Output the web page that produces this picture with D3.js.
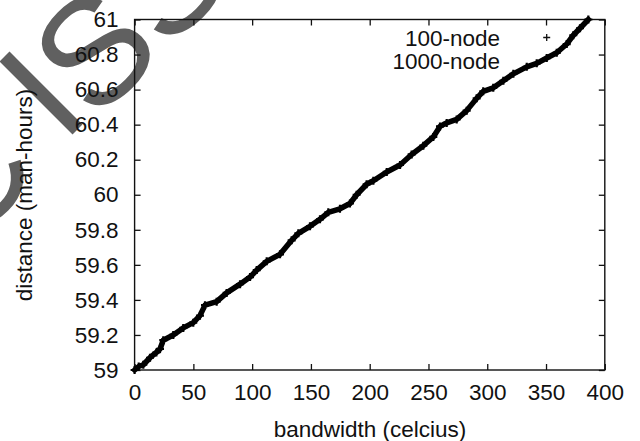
<!DOCTYPE html>
<html><head><meta charset="utf-8">
<script src="https://cdn.jsdelivr.net/npm/d3@7/dist/d3.min.js"></script>
<style>html,body{margin:0;padding:0;background:#fff;}svg{display:block;}</style>
</head><body>
<svg id="c" width="640" height="441"></svg>
<script>
const xTicks = [0, 50, 100, 150, 200, 250, 300, 350, 400];
const yTicks = [59, 59.2, 59.4, 59.6, 59.8, 60, 60.2, 60.4, 60.6, 60.8, 61];
const seriesNames = ["100-node", "1000-node"];
const bandwidth = [0, 3.5, 7.4, 13.1, 18.5, 21.6, 24.4, 32.9, 41.4, 49.9, 55.6, 59.9, 69.8, 78.3, 89.7, 98.2, 103.9, 112.4, 123.7, 133.6, 139.3, 149.2, 157.7, 164.8, 174.7, 183.2, 188.9, 197.4, 203.1, 214.5, 225.8, 235.7, 245.6, 254.1, 259.8, 265.5, 274.0, 282.5, 291.0, 296.6, 305.1, 313.7, 322.2, 333.6, 342.1, 350.6, 359.1, 367.6, 373.2, 378.9, 386.0];
const distance = [59.0, 59.02, 59.03, 59.07, 59.10, 59.12, 59.17, 59.20, 59.24, 59.27, 59.31, 59.37, 59.39, 59.44, 59.49, 59.53, 59.57, 59.62, 59.66, 59.74, 59.78, 59.82, 59.86, 59.90, 59.92, 59.95, 60.00, 60.06, 60.08, 60.13, 60.17, 60.23, 60.28, 60.33, 60.39, 60.41, 60.43, 60.48, 60.55, 60.59, 60.61, 60.65, 60.69, 60.73, 60.75, 60.78, 60.81, 60.86, 60.91, 60.95, 61.0];
const xLabel = "bandwidth (celcius)";
const yLabel = "distance (man-hours)";
const watermarkParts = ["C", "I", "SS"];

const svg = d3.select("#c");
const L = 134.6, R = 604.8, T = 19.5, B = 370;
const FONT = "'Liberation Sans', Arial, Helvetica, sans-serif";
const x = d3.scaleLinear().domain([0, 400]).range([L, R]);
const y = d3.scaleLinear().domain([59, 61]).range([B, T]);

// watermark
const wmShift = [[2, 7], [35, -7], [-3, 8]];
const wm = svg.append("text")
  .attr("transform", "translate(-40,247) rotate(-45)")
  .attr("font-family", FONT).attr("font-size", 150)
  .attr("fill", "#606060");
wm.selectAll("tspan").data(watermarkParts).join("tspan")
  .attr("dx", (d, i) => wmShift[i][0]).attr("dy", (d, i) => wmShift[i][1]).text(d => d);

const g = svg.append("g");
g.append("rect").attr("x", L).attr("y", T).attr("width", R - L).attr("height", B - T)
  .attr("fill", "none").attr("stroke", "#111").attr("stroke-width", 1.4);

const tl = 6;
const axB = d3.axisBottom(x).tickValues(xTicks).tickSize(-tl).tickPadding(14).tickFormat(d3.format("d"));
const axT = d3.axisTop(x).tickValues(xTicks).tickSize(-tl).tickFormat("");
const axL = d3.axisLeft(y).tickValues(yTicks).tickSize(-tl).tickPadding(16).tickFormat(d => d3.format("")(+d.toFixed(1)));
const axR = d3.axisRight(y).tickValues(yTicks).tickSize(-tl).tickFormat("");
function style(sel) {
  sel.select(".domain").remove();
  sel.selectAll(".tick line").attr("stroke", "#111").attr("stroke-width", 1.3);
  sel.selectAll(".tick text").attr("font-family", FONT).attr("font-size", 22.5).attr("fill", "#111");
}
g.append("g").attr("transform", `translate(0,${B})`).call(axB).call(style);
g.append("g").attr("transform", `translate(0,${T})`).call(axT).call(style);
g.append("g").attr("transform", `translate(${L},0)`).call(axL).call(style);
g.append("g").attr("transform", `translate(${R},0)`).call(axR).call(style);

svg.append("text").attr("x", 370).attr("y", 437).attr("text-anchor", "middle")
  .attr("font-family", FONT).attr("font-size", 22.5).attr("fill", "#111").text(xLabel);
svg.append("text").attr("transform", "translate(32,195) rotate(-90)").attr("text-anchor", "middle")
  .attr("font-family", FONT).attr("font-size", 22.5).attr("fill", "#111").text(yLabel);

const pts = bandwidth.map((b, i) => [b, distance[i]]);
const line = d3.line().x(d => x(d[0])).y(d => y(d[1]));
g.append("path").attr("d", line(pts)).attr("fill", "none").attr("stroke", "#000")
  .attr("stroke-width", 5.5).attr("stroke-linejoin", "round").attr("stroke-linecap", "round");
g.selectAll(".pt").data(pts).join("path").attr("class", "pt")
  .attr("transform", d => `translate(${x(d[0])},${y(d[1])})`)
  .attr("d", "M-4,0H4M0,-4V4").attr("stroke", "#000").attr("stroke-width", 2.2);

const leg = svg.append("g");
leg.selectAll("text").data(seriesNames).join("text")
  .attr("x", 500).attr("y", (d, i) => 46 + i * 23).attr("text-anchor", "end")
  .attr("font-family", FONT).attr("font-size", 22.5).attr("fill", "#111").text(d => d);
leg.append("path").attr("transform", "translate(546.7,37.5)").attr("d", "M-3.5,0H3.5M0,-3.5V3.5")
  .attr("stroke", "#111").attr("stroke-width", 1.3);
</script>
</body></html>
